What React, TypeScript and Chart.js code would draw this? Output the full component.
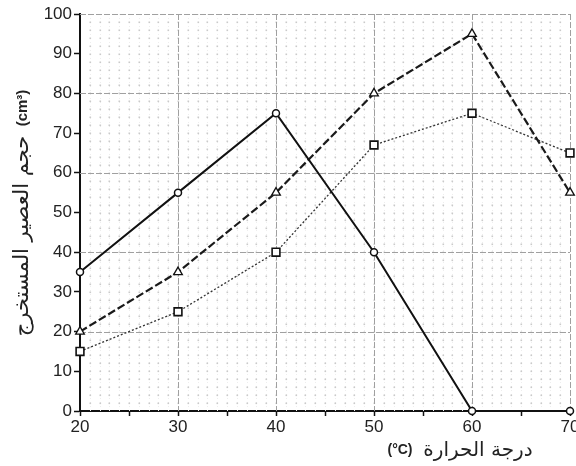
import { useEffect, useRef } from "react";
import { Chart, registerables } from "chart.js";

Chart.register(...registerables);

const temperatures = [20, 30, 40, 50, 60, 70];
const seriesCircle = [35, 55, 75, 40, 0, 0];
const seriesTriangle = [20, 35, 55, 80, 95, 55];
const seriesSquare = [15, 25, 40, 67, 75, 65];
const xRange = [20, 70];
const yRange = [0, 100];
const yTitleArabic = "حجم العصير المستخرج";
const yTitleUnit = "(cm³)";
const xTitleArabic = "درجة الحرارة";
const xTitleUnit = "(°C)";

const toPoints = (vals: number[]) => temperatures.map((t, i) => ({ x: t, y: vals[i] }));

const paperGrid = {
  id: "paperGrid",
  beforeDatasetsDraw(chart: any) {
    const { ctx, chartArea: a, scales } = chart;
    const x = scales.x;
    const y = scales.y;
    const line = (x1: number, y1: number, x2: number, y2: number) => {
      ctx.beginPath();
      ctx.moveTo(x1, y1);
      ctx.lineTo(x2, y2);
      ctx.stroke();
    };
    ctx.save();
    ctx.lineWidth = 1;
    ctx.strokeStyle = "#eeeeee";
    ctx.setLineDash([1, 3]);
    for (let v = x.min + 1; v < x.max; v++) {
      if (v % 10 === 0) continue;
      const px = Math.round(x.getPixelForValue(v)) + 0.5;
      line(px, a.top, px, a.bottom);
    }
    // dotted paper: dots at every minor intersection
    ctx.fillStyle = "#cacaca";
    for (let vx = x.min + 1; vx < x.max; vx++) {
      const px = Math.round(x.getPixelForValue(vx));
      for (let vy = y.min + 2; vy < y.max; vy += 2) {
        const py = Math.round(y.getPixelForValue(vy));
        ctx.fillRect(px - 0.5, py - 0.5, 1.6, 1.6);
      }
    }
    ctx.strokeStyle = "#a0a0a0";
    ctx.setLineDash([6, 2]);
    for (let v = x.min + 10; v <= x.max; v += 10) {
      const px = Math.round(x.getPixelForValue(v)) + 0.5;
      line(px, a.top, px, a.bottom);
    }
    for (let v = y.min + 20; v <= y.max; v += 20) {
      const py = Math.round(y.getPixelForValue(v)) + 0.5;
      line(a.left, py, a.right, py);
    }
    ctx.restore();
  },
};

const axisTitles = {
  id: "axisTitles",
  afterDraw(chart: any) {
    const { ctx } = chart;
    ctx.save();
    ctx.fillStyle = "#222";
    ctx.textBaseline = "middle";
    ctx.textAlign = "center";
    // x title
    ctx.font = "20px 'DejaVu Sans'";
    ctx.direction = "rtl";
    ctx.fillText(xTitleArabic, 478, 451);
    ctx.direction = "ltr";
    ctx.font = "bold 14px 'Liberation Sans'";
    ctx.fillText(xTitleUnit, 400, 450);
    // y title
    ctx.translate(23, 0);
    ctx.rotate(-Math.PI / 2);
    ctx.font = "bold 15px 'Liberation Sans'";
    ctx.fillText(yTitleUnit, -108, 0);
    ctx.font = "21px 'DejaVu Sans'";
    ctx.direction = "rtl";
    ctx.fillText(yTitleArabic, -236, 0);
    ctx.restore();
  },
};

export default function App() {
  const ref = useRef<HTMLCanvasElement>(null);
  useEffect(() => {
    document.body.style.margin = "0";
    const tickFont = { family: "'Liberation Sans', Arial, sans-serif", size: 17 };
    const chart = new Chart(ref.current!, {
      type: "line",
      data: {
        datasets: [
          {
            data: toPoints(seriesCircle),
            borderColor: "#111",
            borderWidth: 2,
            pointStyle: "circle",
            pointRadius: 3.5,
            pointBorderWidth: 1.5,
            pointBackgroundColor: "#fff",
            pointBorderColor: "#111",
            tension: 0,
          },
          {
            data: toPoints(seriesTriangle),
            borderColor: "#1a1a1a",
            borderWidth: 2.2,
            borderDash: [8, 3],
            pointStyle: "triangle",
            pointRadius: 5,
            pointBorderWidth: 1.3,
            pointBackgroundColor: "#fff",
            pointBorderColor: "#111",
            tension: 0,
          },
          {
            data: toPoints(seriesSquare),
            borderColor: "#333",
            borderWidth: 1.3,
            borderDash: [2, 2],
            pointStyle: "rect",
            pointRadius: 5.5,
            pointBorderWidth: 1.6,
            pointBackgroundColor: "#fff",
            pointBorderColor: "#111",
            tension: 0,
          },
        ],
      },
      options: {
        animation: false,
        responsive: false,
        clip: false as any,
        layout: { padding: { left: 0, right: 20, top: 14, bottom: 0 } },
        plugins: { legend: { display: false }, tooltip: { enabled: false } },
        scales: {
          x: {
            type: "linear",
            min: xRange[0],
            max: xRange[1],
            afterFit: (s: any) => {
              s.height = 55;
            },
            ticks: {
              stepSize: 5,
              autoSkip: false,
              maxRotation: 0,
              color: "#222",
              font: tickFont,
              padding: 1,
              callback: (v: any) => (Number(v) % 10 === 0 ? String(v) : ""),
            },
            grid: {
              drawOnChartArea: false,
              tickLength: 5,
              tickWidth: 1.5,
              tickColor: "#111",
            },
            border: { color: "#111", width: 2 },
          },
          y: {
            type: "linear",
            min: yRange[0],
            max: yRange[1],
            afterFit: (s: any) => {
              s.width = 80;
            },
            ticks: { stepSize: 10, color: "#222", font: tickFont, padding: 2 },
            grid: {
              drawOnChartArea: false,
              tickLength: 6,
              tickWidth: 1.5,
              tickColor: "#111",
            },
            border: { color: "#111", width: 2 },
          },
        },
      },
      plugins: [paperGrid, axisTitles],
    });
    return () => chart.destroy();
  }, []);
  return (
    <div style={{ width: 576, height: 466, overflow: "hidden" }}>
      <canvas ref={ref} width={590} height={466} style={{ display: "block" }} />
    </div>
  );
}
